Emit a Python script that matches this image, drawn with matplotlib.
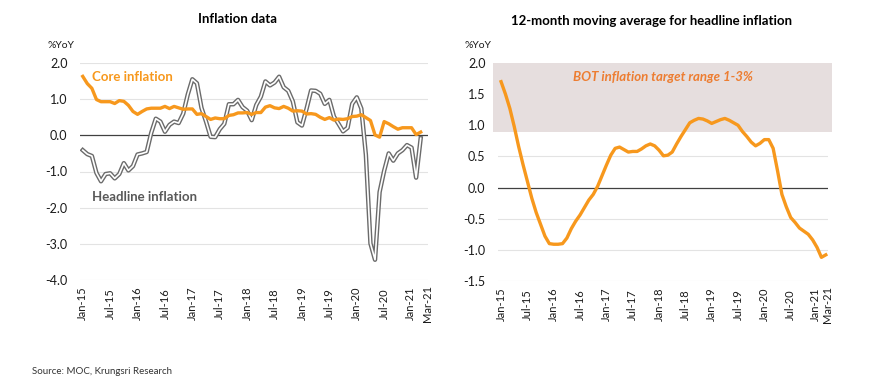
import numpy as np
import matplotlib.pyplot as plt

plt.rcParams['font.family'] = ['Lato', 'DejaVu Sans']

# monthly data Jan-15 .. Mar-21
headline = [-0.41, -0.52, -0.57, -1.04, -1.27, -1.07, -1.05, -1.19, -1.07, -0.77, -0.97, -0.85,
            -0.53, -0.50, -0.46, 0.07, 0.46, 0.38, 0.10, 0.29, 0.38, 0.34, 0.60, 1.13,
            1.55, 1.44, 0.76, 0.38, -0.04, -0.05, 0.17, 0.32, 0.86, 0.86, 0.98, 0.78,
            0.68, 0.42, 0.84, 1.07, 1.49, 1.38, 1.46, 1.62, 1.33, 1.23, 0.94, 0.36,
            0.27, 0.73, 1.24, 1.23, 1.15, 0.87, 0.98, 0.52, 0.32, 0.11, 0.21, 0.87,
            1.05, 0.74, -0.54, -2.99, -3.44, -1.57, -0.98, -0.50, -0.70, -0.50, -0.41, -0.27,
            -0.34, -1.17, -0.08]
core = [1.63, 1.43, 1.30, 0.99, 0.93, 0.93, 0.93, 0.88, 0.96, 0.94, 0.83, 0.66,
        0.58, 0.66, 0.73, 0.75, 0.75, 0.75, 0.80, 0.74, 0.80, 0.76, 0.72, 0.73,
        0.73, 0.58, 0.60, 0.52, 0.44, 0.48, 0.46, 0.46, 0.55, 0.57, 0.62, 0.62,
        0.63, 0.58, 0.63, 0.63, 0.78, 0.82, 0.76, 0.74, 0.80, 0.75, 0.67, 0.68,
        0.67, 0.59, 0.60, 0.58, 0.50, 0.44, 0.49, 0.42, 0.45, 0.44, 0.46, 0.52,
        0.53, 0.57, 0.49, 0.41, 0.01, -0.05, 0.38, 0.32, 0.24, 0.17, 0.21, 0.21,
        0.21, 0.02, 0.09]
ma12 = [1.70, 1.50, 1.27, 0.98, 0.66, 0.37, 0.10, -0.17, -0.40, -0.59, -0.78, -0.90,
        -0.91, -0.91, -0.90, -0.81, -0.66, -0.54, -0.44, -0.32, -0.20, -0.11, 0.02, 0.19,
        0.36, 0.52, 0.63, 0.65, 0.61, 0.57, 0.58, 0.58, 0.62, 0.67, 0.70, 0.67,
        0.60, 0.51, 0.52, 0.57, 0.70, 0.82, 0.93, 1.04, 1.08, 1.11, 1.10, 1.07,
        1.03, 1.06, 1.09, 1.11, 1.08, 1.04, 1.00, 0.90, 0.82, 0.73, 0.67, 0.71,
        0.77, 0.77, 0.63, 0.27, -0.11, -0.31, -0.48, -0.56, -0.65, -0.70, -0.75, -0.84,
        -0.96, -1.12, -1.08]

tick_labels = ['Jan-15', 'Jul-15', 'Jan-16', 'Jul-16', 'Jan-17', 'Jul-17', 'Jan-18',
               'Jul-18', 'Jan-19', 'Jul-19', 'Jan-20', 'Jul-20', 'Jan-21', 'Mar-21']

x = np.arange(len(headline))
orange = '#F7981D'
W, H = 870, 382
fig = plt.figure(figsize=(W / 100, H / 100), dpi=100)


def style(ax, yticks, last_pos):
    for s in ax.spines.values():
        s.set_visible(False)
    ax.set_yticks(yticks)
    ax.set_yticklabels(['%.1f' % v for v in yticks], fontsize=9, color='#1A1A1A')
    # every 6 months, plus the last month (its label is nudged right so it clears Jan-21)
    pos = list(range(0, 73, 6))
    pos[-1] = 71.7
    ax.set_xticks(pos + [last_pos])
    ax.set_xticklabels(tick_labels, fontsize=8, color='#1A1A1A')
    plt.setp(ax.get_xticklabels(), rotation=90, va='center', ha='center')
    ax.tick_params(axis='x', length=0, pad=17)
    ax.tick_params(axis='y', length=0, pad=9)
    for v in yticks:
        if v == 0:
            ax.axhline(0, color='#404040', lw=0.9, zorder=1)
        else:
            ax.axhline(v, color='#E3E3E3', lw=0.8, zorder=0)


# left panel
ax1 = fig.add_axes([80 / W, 1 - 280 / H, 348 / W, 217 / H])
style(ax1, [-4, -3, -2, -1, 0, 1, 2], 75.4)
ax1.set_ylim(-4, 2)
ax1.set_xlim(-0.6, 75.6)
ax1.plot(x, headline, color='#6B6B6B', lw=3.2, zorder=2, solid_joinstyle='round')
ax1.plot(x, headline, color='white', lw=1.2, zorder=3, solid_joinstyle='round')
ax1.plot(x, core, color=orange, lw=2.4, zorder=4, solid_joinstyle='round')
ax1.text(2, 1.6, 'Core inflation', color=orange, fontsize=9.5, fontweight='bold', va='center')
ax1.text(2, -1.7, 'Headline inflation', color='#595959', fontsize=9.5, fontweight='bold', va='center')
fig.text(238 / W, 1 - 19 / H, 'Inflation data', ha='center', va='center', fontsize=9.5, fontweight='bold')
fig.text(61 / W, 1 - 45 / H, '%YoY', ha='center', va='center', fontsize=7.5, color='#1A1A1A')

# right panel
ax2 = fig.add_axes([498 / W, 1 - 281 / H, 330 / W, 218 / H])
style(ax2, [-1.5, -1.0, -0.5, 0.0, 0.5, 1.0, 1.5, 2.0], 74.4)
ax2.set_ylim(-1.5, 2.0)
ax2.set_xlim(-0.7, 74.5)
ax2.axhspan(0.9, 2.0, xmin=-0.015, xmax=1.012, color='#E6DEDE', lw=0, zorder=0.5, clip_on=False)
ax2.plot(x, ma12, color=orange, lw=2.4, zorder=4, solid_joinstyle='round')
ax2.text(0.5, 1.78, 'BOT inflation target range 1-3%', transform=ax2.get_yaxis_transform(),
         ha='center', va='center', color='#ED7D31', fontsize=9.5, fontweight='bold', style='italic')
fig.text(652 / W, 1 - 21 / H, '12-month moving average for headline inflation', ha='center',
         va='center', fontsize=9.5, fontweight='bold')
fig.text(478 / W, 1 - 46 / H, '%YoY', ha='center', va='center', fontsize=7.5, color='#1A1A1A')

fig.text(32 / W, 1 - 372 / H, 'Source: MOC, Krungsri Research', ha='left', va='center',
         fontsize=7, color='#333333')

fig.savefig('out.png', dpi=100, facecolor='white')
